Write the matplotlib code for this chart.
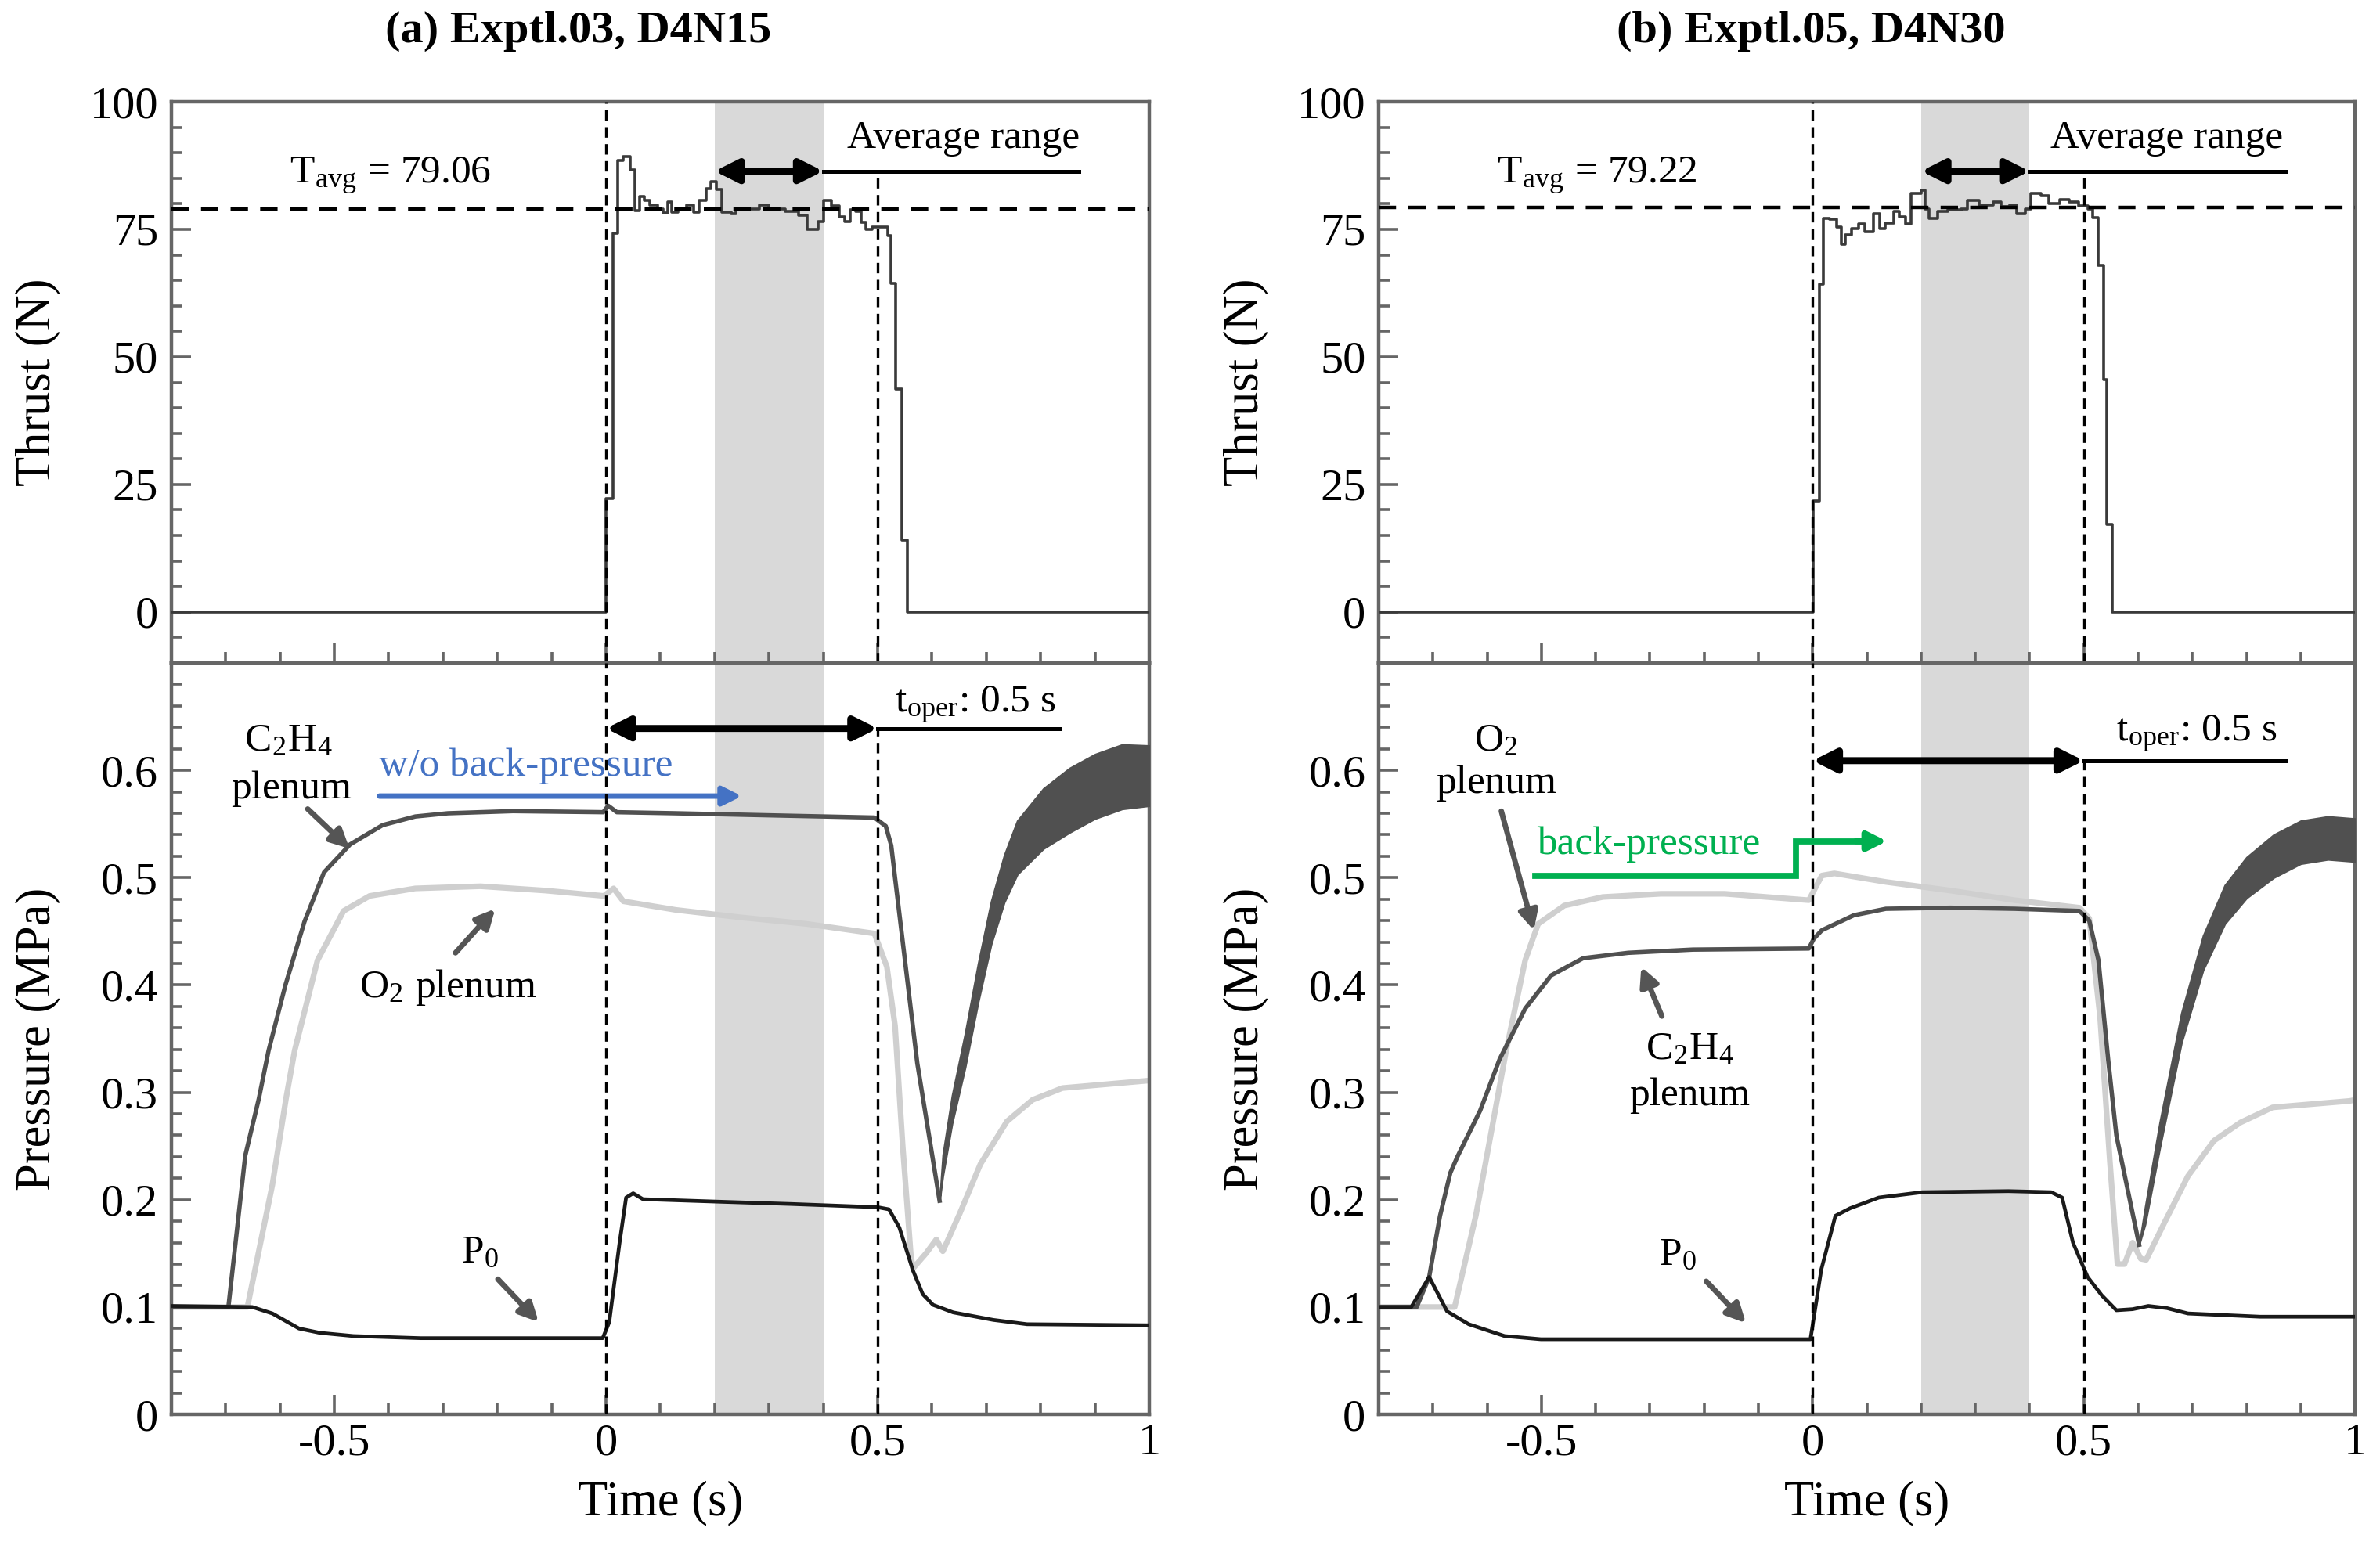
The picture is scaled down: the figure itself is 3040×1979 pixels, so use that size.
"""Thrust and plenum pressure histories for two hot-fire tests."""

import matplotlib
import matplotlib.pyplot as plt
from matplotlib.ticker import MultipleLocator, FixedLocator

matplotlib.use("Agg")

plt.rcParams["font.family"] = ["Liberation Serif", "DejaVu Serif"]
plt.rcParams["mathtext.fontset"] = "stix"

# ---- (a) Exptl.03, D4N15 ----
THRUST_A_T = [-0.8, 0.0005, 0.0134, 0.0216, 0.031, 0.0447, 0.0528, 0.0624, 0.071, 0.080,
              0.095, 0.105, 0.114, 0.121, 0.133, 0.148, 0.162, 0.172, 0.184, 0.193,
              0.203, 0.213, 0.230, 0.239, 0.259, 0.283, 0.300, 0.330, 0.355, 0.370,
              0.390, 0.400, 0.415, 0.430, 0.440, 0.450, 0.460, 0.470, 0.478, 0.490,
              0.510, 0.518, 0.525, 0.533, 0.544, 0.555, 1.0]
THRUST_A_N = [0.0, 22.2, 74.3, 88.5, 89.2, 86.6, 78.7, 81.4, 80.7, 79.7,
              79.0, 78.2, 80.3, 78.3, 79.0, 79.7, 78.3, 80.7, 83.0, 84.3,
              82.8, 78.3, 78.0, 78.9, 79.0, 79.7, 79.0, 78.6, 77.8, 75.0,
              76.5, 80.6, 79.6, 77.5, 76.5, 78.8, 78.5, 76.3, 75.0, 75.5,
              75.5, 73.8, 64.4, 43.7, 14.1, 0.0, 0.0]
TAVG_A = 79.06

C2H4_A_T = [-0.8, -0.695, -0.664, -0.639, -0.621, -0.59, -0.555, -0.519, -0.471, -0.411,
            -0.351, -0.291, -0.171, -0.005, 0.004, 0.02, 0.128, 0.308, 0.494, 0.515,
            0.525, 0.532, 0.573, 0.614]
C2H4_A_P = [0.100, 0.100, 0.241, 0.294, 0.339, 0.400, 0.459, 0.505, 0.531, 0.549,
            0.557, 0.560, 0.562, 0.561, 0.567, 0.561, 0.560, 0.558, 0.556, 0.548,
            0.530, 0.500, 0.327, 0.199]
BAND_A_T = [0.614, 0.620, 0.637, 0.661, 0.685, 0.709, 0.733, 0.757, 0.805, 0.853, 0.90, 0.95, 1.0]
BAND_A_MID = [0.199, 0.232, 0.284, 0.339, 0.402, 0.458, 0.499, 0.528, 0.555, 0.572, 0.585, 0.594, 0.595]
BAND_A_HW = [0.0, 0.010, 0.013, 0.016, 0.018, 0.020, 0.022, 0.025, 0.028, 0.030, 0.030, 0.030, 0.028]

O2_A_T = [-0.8, -0.66, -0.614, -0.589, -0.573, -0.531, -0.483, -0.435, -0.351, -0.231,
          -0.112, -0.004, 0.014, 0.032, 0.128, 0.248, 0.368, 0.494, 0.517, 0.532,
          0.546, 0.561, 0.565, 0.589, 0.608, 0.620, 0.651, 0.689, 0.738, 0.785,
          0.84, 1.0]
O2_A_P = [0.100, 0.100, 0.214, 0.294, 0.339, 0.423, 0.469, 0.483, 0.490, 0.492,
          0.488, 0.483, 0.490, 0.478, 0.470, 0.463, 0.457, 0.448, 0.417, 0.362,
          0.251, 0.149, 0.136, 0.150, 0.163, 0.152, 0.187, 0.233, 0.273, 0.293,
          0.304, 0.311]

P0_A_T = [-0.8, -0.651, -0.614, -0.565, -0.527, -0.465, -0.341, -0.006, 0.006, 0.025,
          0.037, 0.050, 0.068, 0.217, 0.341, 0.5, 0.521, 0.540, 0.565, 0.583,
          0.602, 0.639, 0.713, 0.775, 1.0]
P0_A_P = [0.101, 0.100, 0.094, 0.080, 0.076, 0.073, 0.071, 0.071, 0.086, 0.160,
          0.202, 0.206, 0.2005, 0.198, 0.196, 0.193, 0.191, 0.174, 0.134, 0.112,
          0.102, 0.095, 0.088, 0.084, 0.083]

# ---- (b) Exptl.05, D4N30 ----
THRUST_B_T = [-0.8, 0.001, 0.012, 0.020, 0.032, 0.045, 0.053, 0.060, 0.072, 0.085,
              0.097, 0.112, 0.123, 0.134, 0.149, 0.160, 0.171, 0.182, 0.200, 0.208,
              0.215, 0.230, 0.250, 0.274, 0.285, 0.307, 0.333, 0.348, 0.363, 0.377,
              0.392, 0.403, 0.421, 0.436, 0.455, 0.473, 0.490, 0.507, 0.517, 0.526,
              0.536, 0.543, 0.552, 1.0]
THRUST_B_N = [0.0, 21.7, 64.2, 77.2, 77.0, 75.5, 72.1, 73.9, 75.2, 76.0,
              74.5, 78.0, 75.2, 76.2, 78.5, 77.5, 76.0, 82.1, 82.6, 79.0,
              77.2, 78.5, 78.8, 79.0, 80.6, 79.8, 80.3, 79.5, 79.8, 78.0,
              79.0, 82.1, 81.6, 80.1, 80.8, 80.3, 79.6, 79.0, 77.3, 68.0,
              45.6, 17.1, 0.0, 0.0]
TAVG_B = 79.22

C2H4_B_T = [-0.8, -0.73, -0.707, -0.687, -0.668, -0.655, -0.613, -0.577, -0.53, -0.482,
            -0.423, -0.34, -0.221, -0.007, 0.002, 0.017, 0.076, 0.135, 0.254, 0.373,
            0.492, 0.510, 0.527, 0.545, 0.560, 0.602]
C2H4_B_P = [0.100, 0.100, 0.128, 0.185, 0.225, 0.240, 0.283, 0.331, 0.378, 0.409,
            0.425, 0.430, 0.433, 0.434, 0.443, 0.451, 0.465, 0.471, 0.472, 0.471,
            0.469, 0.460, 0.423, 0.330, 0.260, 0.158]
BAND_B_T = [0.602, 0.613, 0.64, 0.68, 0.72, 0.76, 0.80, 0.85, 0.90, 0.95, 1.0]
BAND_B_MID = [0.158, 0.185, 0.26, 0.36, 0.43, 0.475, 0.50, 0.52, 0.533, 0.537, 0.535]
BAND_B_HW = [0.0, 0.008, 0.012, 0.014, 0.016, 0.018, 0.019, 0.020, 0.020, 0.020, 0.020]

O2_B_T = [-0.8, -0.66, -0.621, -0.594, -0.565, -0.530, -0.506, -0.458, -0.387, -0.280,
          -0.162, -0.007, 0.017, 0.040, 0.135, 0.254, 0.373, 0.492, 0.510, 0.530,
          0.548, 0.562, 0.575, 0.590, 0.605, 0.615, 0.650, 0.692, 0.740, 0.789,
          0.848, 0.99, 1.0]
O2_B_P = [0.100, 0.100, 0.185, 0.259, 0.339, 0.423, 0.457, 0.474, 0.482, 0.485,
          0.485, 0.479, 0.502, 0.504, 0.496, 0.488, 0.479, 0.472, 0.462, 0.370,
          0.236, 0.140, 0.140, 0.160, 0.145, 0.144, 0.180, 0.222, 0.255, 0.272,
          0.286, 0.292, 0.293]

P0_B_T = [-0.8, -0.740, -0.707, -0.674, -0.634, -0.568, -0.501, -0.004, 0.016, 0.042,
          0.069, 0.122, 0.202, 0.361, 0.440, 0.460, 0.480, 0.507, 0.533, 0.560,
          0.590, 0.619, 0.653, 0.692, 0.825, 1.0]
P0_B_P = [0.100, 0.100, 0.128, 0.096, 0.084, 0.073, 0.070, 0.070, 0.135, 0.185,
          0.192, 0.202, 0.207, 0.208, 0.207, 0.202, 0.160, 0.128, 0.111, 0.097,
          0.098, 0.101, 0.099, 0.094, 0.091, 0.091]

AVG_RANGE = (0.2, 0.4)
T_OPER = (0.0, 0.5)

C_C2H4 = "#505050"
C_O2 = "#cfcfcf"
C_P0 = "#1a1a1a"
C_THRUST = "#3a3a3a"
C_SPINE = "#666666"
C_SHADE = "#d9d9d9"
C_ARROW = "#555555"
FS = 18.5
FS_TICK = 21
FS_LABEL = 22.5


def _style_axis(ax):
    for sp in ax.spines.values():
        sp.set_color(C_SPINE)
        sp.set_linewidth(1.6)
    ax.tick_params(which="both", direction="in", top=False, right=False,
                   color=C_SPINE, labelsize=FS_TICK, width=1.3)
    ax.tick_params(which="major", length=9)
    ax.tick_params(which="minor", length=5)
    ax.set_xlim(-0.8, 1.0)
    ax.xaxis.set_major_locator(FixedLocator([-0.5, 0, 0.5, 1.0]))
    ax.xaxis.set_minor_locator(MultipleLocator(0.1))


def _gray_arrow(ax, tail, head):
    ax.annotate("", xy=head, xytext=tail,
                arrowprops=dict(arrowstyle="-|>", color=C_ARROW, lw=2.5,
                                mutation_scale=18, shrinkA=0, shrinkB=0))


def _range_marker(ax, x0, x1, y, x_end, lw_big=3.2):
    ax.annotate("", xy=(x0, y), xytext=(x1, y),
                arrowprops=dict(arrowstyle="<|-|>", color="black", lw=lw_big,
                                mutation_scale=22, shrinkA=0, shrinkB=0))
    ax.plot([x1, x_end], [y, y], color="black", lw=1.8)


def draw_panel(ax_t, ax_p, thr_t, thr_n, tavg, c2_t, c2_p, band_t, band_mid, band_hw,
               o2_t, o2_p, p0_t, p0_p, avg_y, oper_y):
    for ax in (ax_t, ax_p):
        _style_axis(ax)
        ax.axvspan(*AVG_RANGE, color=C_SHADE, lw=0, zorder=0)

    # thrust
    ax_t.step(thr_t, thr_n, where="post", color=C_THRUST, lw=1.3, zorder=3)
    ax_t.axhline(tavg, color="black", lw=1.6, ls=(0, (5, 3.5)), zorder=4)
    ax_t.axvline(T_OPER[0], color="black", lw=1.2, ls=(0, (4, 2.5)), zorder=4)
    ax_t.vlines(T_OPER[1], -10, avg_y, color="black", lw=1.2, ls=(0, (4, 2.5)), zorder=4)
    ax_t.set_ylim(-10, 100)
    ax_t.yaxis.set_major_locator(FixedLocator([0, 25, 50, 75, 100]))
    ax_t.yaxis.set_minor_locator(MultipleLocator(5))
    ax_t.tick_params(axis="x", labelbottom=False)
    ax_t.tick_params(axis="y", pad=6)
    ax_t.set_ylabel("Thrust (N)", fontsize=FS_LABEL)
    ax_t.yaxis.set_label_coords(-0.113, 0.5)

    # pressure
    ax_p.plot(o2_t, o2_p, color=C_O2, lw=2.6, zorder=2)
    lo = [m - h for m, h in zip(band_mid, band_hw)]
    hi = [m + h for m, h in zip(band_mid, band_hw)]
    ax_p.fill_between(band_t, lo, hi, color=C_C2H4, lw=0.8, zorder=3)
    ax_p.plot(c2_t, c2_p, color=C_C2H4, lw=2.0, zorder=3)
    ax_p.plot(p0_t, p0_p, color=C_P0, lw=1.7, zorder=3)
    ax_p.axvline(T_OPER[0], color="black", lw=1.2, ls=(0, (4, 2.5)), zorder=4)
    ax_p.vlines(T_OPER[1], 0, oper_y, color="black", lw=1.2, ls=(0, (4, 2.5)), zorder=4)
    ax_p.set_ylim(0, 0.7)
    ax_p.yaxis.set_major_locator(FixedLocator([0, 0.1, 0.2, 0.3, 0.4, 0.5, 0.6]))
    ax_p.yaxis.set_minor_locator(MultipleLocator(0.02))
    ax_p.yaxis.set_major_formatter(lambda v, pos: f"{v:g}")
    ax_p.xaxis.set_major_formatter(lambda v, pos: f"{v:g}")
    ax_p.tick_params(axis="x", pad=4)
    ax_p.tick_params(axis="y", pad=6)
    ax_p.set_ylabel("Pressure (MPa)", fontsize=FS_LABEL)
    ax_p.yaxis.set_label_coords(-0.113, 0.5)
    ax_p.set_xlabel("Time (s)", fontsize=FS_LABEL)
    ax_p.xaxis.set_label_coords(0.5, -0.088)


fig = plt.figure(figsize=(15.2, 9.895), dpi=200)
axa_t = fig.add_axes([0.0720, 0.5720, 0.4109, 0.3623])
axa_p = fig.add_axes([0.0720, 0.0869, 0.4109, 0.4851])
axb_t = fig.add_axes([0.5793, 0.5720, 0.4102, 0.3623])
axb_p = fig.add_axes([0.5793, 0.0869, 0.4102, 0.4851])

draw_panel(axa_t, axa_p, THRUST_A_T, THRUST_A_N, TAVG_A, C2H4_A_T, C2H4_A_P,
           BAND_A_T, BAND_A_MID, BAND_A_HW, O2_A_T, O2_A_P, P0_A_T, P0_A_P,
           avg_y=86.4, oper_y=0.639)
draw_panel(axb_t, axb_p, THRUST_B_T, THRUST_B_N, TAVG_B, C2H4_B_T, C2H4_B_P,
           BAND_B_T, BAND_B_MID, BAND_B_HW, O2_B_T, O2_B_P, P0_B_T, P0_B_P,
           avg_y=86.4, oper_y=0.609)

# ---- annotations (a) ----
axa_t.text(-0.397, 85.5, r"T$_\mathregular{avg}$ = 79.06", fontsize=FS, ha="center", va="center")
axa_t.text(0.658, 92.8, "Average range", fontsize=FS, ha="center", va="center")
_range_marker(axa_t, *AVG_RANGE, 86.4, 0.871)

axa_p.text(0.532, 0.661, r"t$_\mathregular{oper}$: 0.5 s", fontsize=FS, ha="left", va="center")
_range_marker(axa_p, *T_OPER, 0.639, 0.836)
axa_p.text(-0.585, 0.627, r"C$_\mathregular{2}$H$_\mathregular{4}$", fontsize=FS,
           ha="center", va="center")
axa_p.text(-0.579, 0.583, "plenum", fontsize=FS, ha="center", va="center")
_gray_arrow(axa_p, (-0.549, 0.564), (-0.472, 0.527))
axa_p.text(-0.147, 0.604, "w/o back-pressure", fontsize=FS, color="#4472C4",
           ha="center", va="center")
axa_p.annotate("", xy=(0.250, 0.576), xytext=(-0.417, 0.576),
               arrowprops=dict(arrowstyle="-|>", color="#4472C4", lw=2.5,
                               mutation_scale=18, shrinkA=0, shrinkB=0))
axa_p.text(-0.291, 0.398, r"O$_\mathregular{2}$ plenum", fontsize=FS, ha="center", va="center")
_gray_arrow(axa_p, (-0.277, 0.430), (-0.204, 0.471))
axa_p.text(-0.232, 0.150, r"P$_\mathregular{0}$", fontsize=FS, ha="center", va="center")
_gray_arrow(axa_p, (-0.199, 0.126), (-0.124, 0.086))

# ---- annotations (b) ----
axb_t.text(-0.397, 85.5, r"T$_\mathregular{avg}$ = 79.22", fontsize=FS, ha="center", va="center")
axb_t.text(0.653, 92.8, "Average range", fontsize=FS, ha="center", va="center")
_range_marker(axb_t, *AVG_RANGE, 86.4, 0.872)

axb_p.text(0.560, 0.634, r"t$_\mathregular{oper}$: 0.5 s", fontsize=FS, ha="left", va="center")
_range_marker(axb_p, *T_OPER, 0.609, 0.872)
axb_p.text(-0.583, 0.627, r"O$_\mathregular{2}$", fontsize=FS, ha="center", va="center")
axb_p.text(-0.583, 0.588, "plenum", fontsize=FS, ha="center", va="center")
_gray_arrow(axb_p, (-0.574, 0.562), (-0.514, 0.451))
axb_p.text(-0.302, 0.531, "back-pressure", fontsize=FS, color="#00B050",
           ha="center", va="center")
axb_p.plot([-0.512, -0.031, -0.031, 0.10], [0.502, 0.502, 0.534, 0.534],
           color="#00B050", lw=2.8, solid_joinstyle="miter")
axb_p.annotate("", xy=(0.137, 0.534), xytext=(0.08, 0.534),
               arrowprops=dict(arrowstyle="-|>", color="#00B050", lw=2.8,
                               mutation_scale=18, shrinkA=0, shrinkB=0))
axb_p.text(-0.227, 0.340, r"C$_\mathregular{2}$H$_\mathregular{4}$", fontsize=FS,
           ha="center", va="center")
axb_p.text(-0.227, 0.297, "plenum", fontsize=FS, ha="center", va="center")
_gray_arrow(axb_p, (-0.278, 0.371), (-0.316, 0.417))
axb_p.text(-0.249, 0.148, r"P$_\mathregular{0}$", fontsize=FS, ha="center", va="center")
_gray_arrow(axb_p, (-0.196, 0.124), (-0.123, 0.085))

fig.text(0.243, 0.980, "(a) Exptl.03, D4N15", fontsize=21, fontweight="bold",
         ha="center", va="center")
fig.text(0.761, 0.980, "(b) Exptl.05, D4N30", fontsize=21, fontweight="bold",
         ha="center", va="center")

fig.savefig("out.png", dpi=200)
plt.close(fig)
